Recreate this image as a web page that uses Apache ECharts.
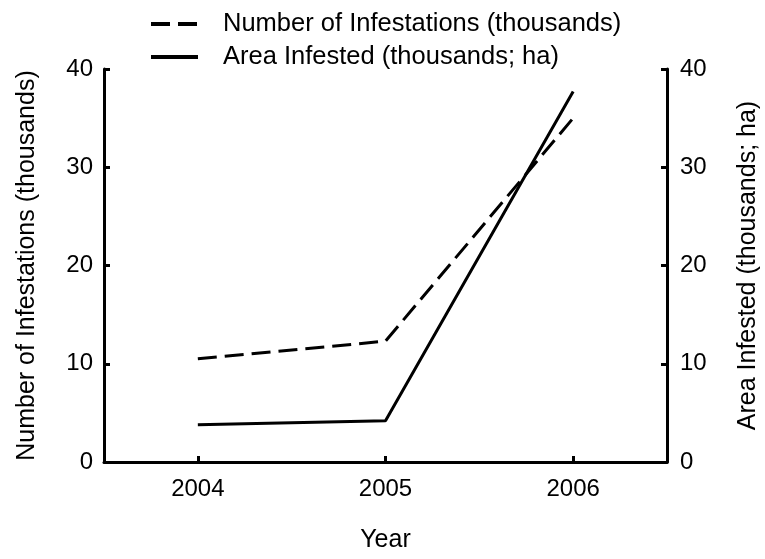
<!DOCTYPE html>
<html>
<head>
<meta charset="utf-8">
<script src="https://cdn.jsdelivr.net/npm/echarts@6/dist/echarts.min.js"></script>
<style>
html, body { margin: 0; padding: 0; background: #fff; }
#chart { width: 765px; height: 559px; }
</style>
</head>
<body>
<div id="chart"></div>
<script>
var years = ['2004', '2005', '2006'];
var infestations = [10.5, 12.3, 35.0];
var areaInfested = [3.8, 4.2, 37.7];
var yTicks = [0, 10, 20, 30, 40];

var font = 'Liberation Sans, Arial, sans-serif';
var axisColor = '#000';

var chart = echarts.init(document.getElementById('chart'));

function yAxis(name, pos, nameGap) {
	return {
		type: 'value',
		position: pos,
		min: yTicks[0],
		max: yTicks[yTicks.length - 1],
		interval: yTicks[1] - yTicks[0],
		name: name,
		nameLocation: 'middle',
		nameGap: nameGap,
		nameTextStyle: { color: '#000', fontSize: 25, fontFamily: font },
		axisLine: { show: true, lineStyle: { color: axisColor, width: 3 } },
		axisTick: { show: true, inside: true, length: 6, lineStyle: { color: axisColor, width: 3 } },
		axisLabel: { color: '#000', fontSize: 24, fontFamily: font, margin: pos == 'left' ? 11 : 13 },
		splitLine: { show: false }
	};
}

var option = {
	animation: false,
	backgroundColor: '#fff',
	legend: {
		orient: 'vertical',
		left: 144,
		top: 6,
		itemWidth: 47,
		itemHeight: 14,
		itemGap: 7,
		itemStyle: { opacity: 0 },
		lineStyle: { width: 4 },
		textStyle: { color: '#000', fontSize: 25.5, fontFamily: font, padding: [0, 0, 0, 20] },
		data: ['Number of Infestations (thousands)', 'Area Infested (thousands; ha)']
	},
	grid: {
		left: 104,
		right: 98,
		top: 69,
		bottom: 97,
		containLabel: false,
		outerBoundsMode: 'none'
	},
	xAxis: {
		type: 'category',
		data: years,
		boundaryGap: true,
		name: 'Year',
		nameLocation: 'middle',
		nameGap: 66,
		nameTextStyle: { color: '#000', fontSize: 25, fontFamily: font },
		axisLine: { show: true, lineStyle: { color: axisColor, width: 3 } },
		axisTick: { show: true, inside: true, length: 6, alignWithLabel: true, lineStyle: { color: axisColor, width: 3 } },
		axisLabel: { color: '#000', fontSize: 24, fontFamily: font, margin: 15 }
	},
	yAxis: [
		yAxis('Number of Infestations (thousands)', 'left', 64),
		yAxis('Area Infested (thousands; ha)', 'right', 69)
	],
	series: [
		{
			name: 'Number of Infestations (thousands)',
			type: 'line',
			yAxisIndex: 0,
			data: infestations,
			symbol: 'none',
			lineStyle: { color: '#000', width: 3, type: [19, 8] },
			itemStyle: { color: '#000' }
		},
		{
			name: 'Area Infested (thousands; ha)',
			type: 'line',
			yAxisIndex: 1,
			data: areaInfested,
			symbol: 'none',
			lineStyle: { color: '#000', width: 3 },
			itemStyle: { color: '#000' }
		}
	]
};

chart.setOption(option);
</script>
</body>
</html>
